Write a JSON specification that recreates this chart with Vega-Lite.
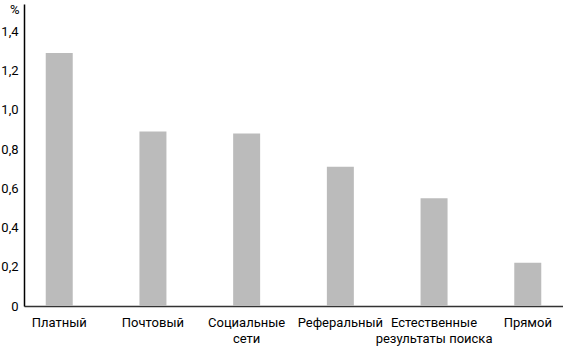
{
  "$schema": "https://vega.github.io/schema/vega-lite/v6.json",
  "width": 539,
  "height": 302,
  "autosize": "none",
  "padding": {"left": 24, "top": 4, "right": 0, "bottom": 45},
  "background": "white",
  "config": {
    "view": {"stroke": null},
    "font": "Roboto"
  },
  "data": {
    "values": [
      {"channel": "Платный", "value": 1.29},
      {"channel": "Почтовый", "value": 0.89},
      {"channel": "Социальные сети", "value": 0.88},
      {"channel": "Реферальный", "value": 0.71},
      {"channel": "Естественные результаты поиска", "value": 0.55},
      {"channel": "Прямой", "value": 0.22}
    ]
  },
  "mark": {"type": "bar", "color": "#bbbbbb"},
  "encoding": {
    "x": {
      "field": "channel",
      "type": "nominal",
      "sort": null,
      "scale": {"paddingInner": 0.712, "paddingOuter": 0.232},
      "axis": {
        "title": null,
        "labelAngle": 0,
        "ticks": false,
        "labelPadding": 10,
        "labelFontSize": 13,
        "labelColor": "#000",
        "labelLineHeight": 16,
        "labelExpr": "datum.value == 'Социальные сети' ? ['Социальные', 'сети'] : datum.value == 'Естественные результаты поиска' ? ['Естественные', 'результаты поиска'] : datum.value",
        "domainColor": "#333",
        "domainWidth": 1.5,
        "labelLimit": 200
      }
    },
    "y": {
      "field": "value",
      "type": "quantitative",
      "scale": {"domain": [0, 1.54], "nice": false},
      "axis": {
        "title": "%",
        "titleAngle": 0,
        "titleAlign": "right",
        "titleBaseline": "middle",
        "titleX": -5,
        "titleY": 5,
        "titleFontSize": 13,
        "titleFontWeight": "normal",
        "titleColor": "#000",
        "values": [0, 0.2, 0.4, 0.6, 0.8, 1.0, 1.2, 1.4],
        "labelExpr": "datum.value == 0 ? '0' : replace(format(datum.value, '.1f'), '.', ',')",
        "ticks": false,
        "grid": false,
        "labelPadding": 6,
        "labelFontSize": 13,
        "labelColor": "#000",
        "domainColor": "#000",
        "domainWidth": 1.5
      }
    }
  }
}
